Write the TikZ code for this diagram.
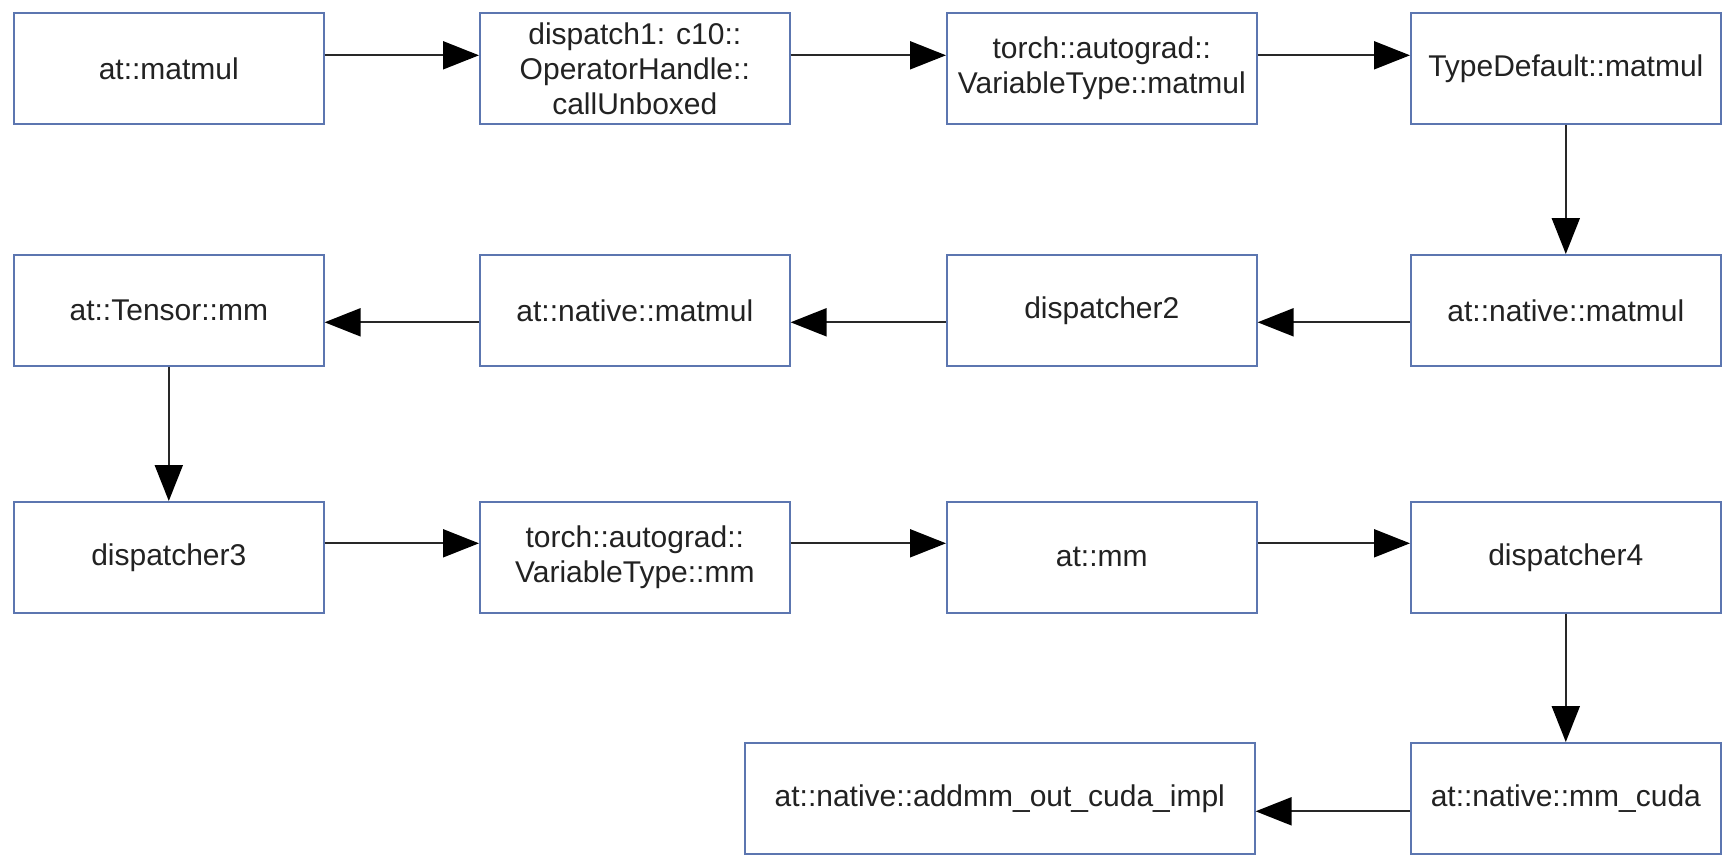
\documentclass[tikz,border=0pt]{standalone}
\usepackage{fontspec}
\setmainfont{Liberation Sans}
\usetikzlibrary{arrows.meta}
\definecolor{boxblue}{RGB}{92,118,176}
\definecolor{linegray}{RGB}{40,40,40}
\definecolor{txtcol}{RGB}{34,34,34}
\begin{document}
\begin{tikzpicture}[x=1pt,y=-1pt,
  fnbox/.style={draw=boxblue, line width=1.6pt, fill=white, anchor=north west,
    minimum width=310pt, minimum height=111pt, inner sep=0pt, align=center,
    text=txtcol, font=\fontsize{30}{35}\selectfont},
  flow/.style={draw=linegray, line width=2pt,
    -{Triangle[length=36pt,width=28pt,color=black]}}]
\useasboundingbox (0,0) rectangle (1727,860);
% row 1
\node[fnbox] (a1) at (13,12) {at::matmul};
\node[fnbox] (a2) at (479,12) {dispatch1: c10::\\OperatorHandle::\\callUnboxed};
\node[fnbox] (a3) at (946,12) {torch::autograd::\\VariableType::matmul};
\node[fnbox] (a4) at (1410,12) {TypeDefault::matmul};
% row 2
\node[fnbox] (b4) at (1410,254) {at::native::matmul};
\node[fnbox] (b3) at (946,254) {dispatcher2};
\node[fnbox] (b2) at (479,254) {at::native::matmul};
\node[fnbox] (b1) at (13,254) {at::Tensor::mm};
% row 3
\node[fnbox] (c1) at (13,501) {dispatcher3};
\node[fnbox] (c2) at (479,501) {torch::autograd::\\VariableType::mm};
\node[fnbox] (c3) at (946,501) {at::mm};
\node[fnbox] (c4) at (1410,501) {dispatcher4};
% row 4
\node[fnbox] (d4) at (1410,742) {at::native::mm\_cuda};
\node[fnbox, minimum width=510pt] (d3) at (744,742) {at::native::addmm\_out\_cuda\_impl};
% connectors
\draw[flow] ([yshift=13pt]a1.east) -- ([yshift=13pt]a2.west);
\draw[flow] ([yshift=13pt]a2.east) -- ([yshift=13pt]a3.west);
\draw[flow] ([yshift=13pt]a3.east) -- ([yshift=13pt]a4.west);
\draw[flow] (a4.south) -- (b4.north);
\draw[flow] ([yshift=-12pt]b4.west) -- ([yshift=-12pt]b3.east);
\draw[flow] ([yshift=-12pt]b3.west) -- ([yshift=-12pt]b2.east);
\draw[flow] ([yshift=-12pt]b2.west) -- ([yshift=-12pt]b1.east);
\draw[flow] (b1.south) -- (c1.north);
\draw[flow] ([yshift=14pt]c1.east) -- ([yshift=14pt]c2.west);
\draw[flow] ([yshift=14pt]c2.east) -- ([yshift=14pt]c3.west);
\draw[flow] ([yshift=14pt]c3.east) -- ([yshift=14pt]c4.west);
\draw[flow] (c4.south) -- (d4.north);
\draw[flow] ([yshift=-13pt]d4.west) -- ([yshift=-13pt]d3.east);
\end{tikzpicture}
\end{document}
